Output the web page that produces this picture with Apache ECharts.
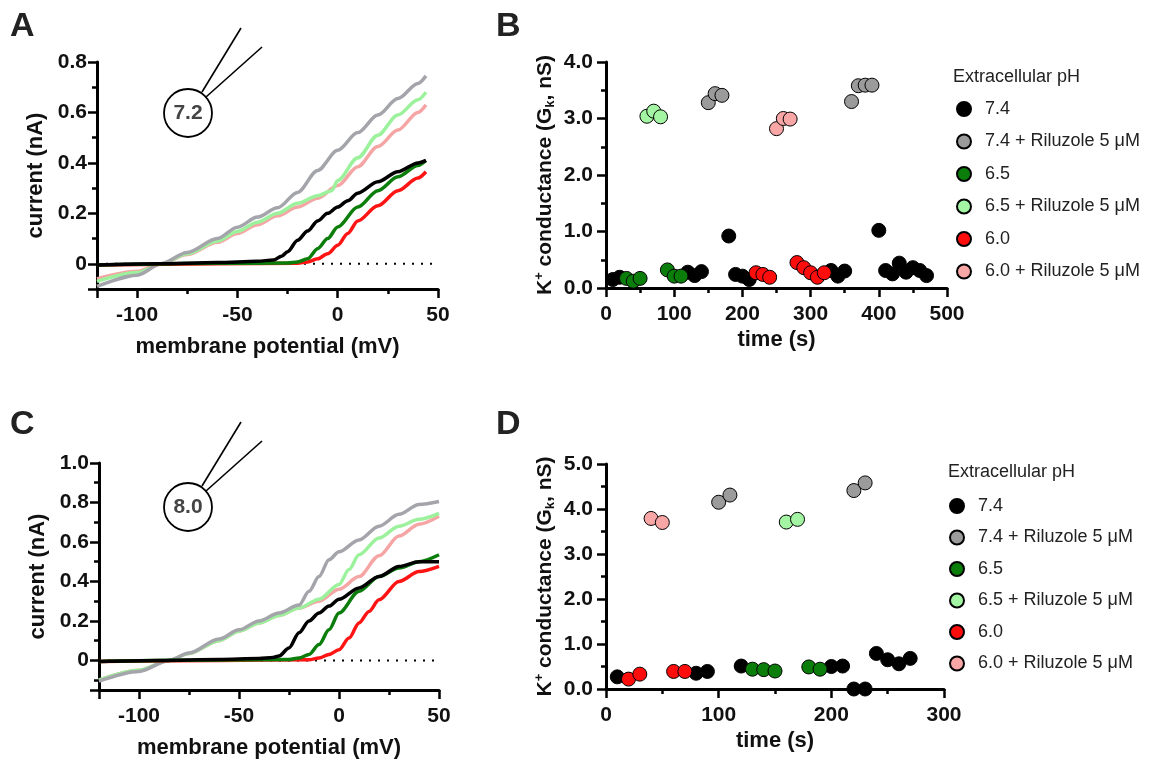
<!DOCTYPE html>
<html>
<head>
<meta charset="utf-8">
<script src="https://cdn.jsdelivr.net/npm/echarts@6/dist/echarts.min.js"></script>
<style>
  html, body { margin: 0; padding: 0; background: #fff; }
  #chart { width: 1157px; height: 761px; }
</style>
</head>
<body>
<div id="chart"></div>
<script>
// ---- I-V curves, panel A (pipette pH 7.2) : [mV, nA]
var ivA_gray   = [[-120,-0.09],[-100,-0.045],[-88,0],[-75,0.045],[-60,0.1],[-50,0.145],[-40,0.185],[-30,0.222],[-20,0.283],[-10,0.37],[0,0.45],[10,0.52],[20,0.59],[30,0.655],[40,0.715],[44,0.745]];
var ivA_lgreen = [[-120,-0.07],[-100,-0.035],[-88,0],[-75,0.04],[-60,0.09],[-50,0.128],[-40,0.165],[-30,0.2],[-20,0.24],[-10,0.27],[-3,0.29],[0,0.33],[10,0.42],[20,0.51],[30,0.59],[40,0.65],[44,0.68]];
var ivA_pink   = [[-120,-0.06],[-100,-0.03],[-88,0],[-75,0.037],[-60,0.085],[-50,0.12],[-40,0.155],[-30,0.19],[-20,0.225],[-10,0.26],[0,0.31],[10,0.385],[20,0.465],[30,0.53],[40,0.6],[44,0.63]];
var ivA_black  = [[-120,-0.005],[-90,0],[-60,0.005],[-40,0.01],[-32,0.015],[-28,0.03],[-25,0.048],[-20,0.093],[-15,0.13],[-10,0.17],[-5,0.2],[0,0.225],[5,0.25],[10,0.28],[20,0.325],[30,0.365],[40,0.4],[44,0.41]];
var ivA_green  = [[-120,-0.005],[-60,0.002],[-25,0.003],[-20,0.007],[-15,0.02],[-10,0.06],[-5,0.1],[0,0.146],[10,0.225],[20,0.29],[30,0.345],[40,0.39],[44,0.41]];
var ivA_red    = [[-120,-0.005],[-60,0],[-20,0.002],[-15,0.007],[-10,0.02],[-5,0.04],[0,0.073],[5,0.12],[10,0.17],[20,0.23],[30,0.29],[40,0.34],[44,0.365]];

// ---- I-V curves, panel C (pipette pH 8.0)
var ivC_gray   = [[-120,-0.105],[-100,-0.056],[-85,0],[-75,0.037],[-60,0.108],[-50,0.155],[-40,0.2],[-30,0.24],[-20,0.28],[-15,0.35],[-10,0.425],[-5,0.51],[0,0.55],[10,0.61],[20,0.68],[30,0.74],[40,0.79],[50,0.805]];
var ivC_lgreen = [[-120,-0.1],[-100,-0.05],[-85,0],[-75,0.035],[-60,0.1],[-50,0.148],[-40,0.19],[-30,0.228],[-20,0.265],[-10,0.31],[0,0.385],[5,0.46],[10,0.535],[20,0.62],[30,0.68],[40,0.715],[50,0.745]];
var ivC_pink   = [[-120,-0.1],[-100,-0.05],[-85,0],[-75,0.035],[-60,0.1],[-50,0.148],[-40,0.19],[-30,0.228],[-20,0.265],[-10,0.3],[0,0.36],[10,0.425],[20,0.53],[30,0.63],[40,0.69],[50,0.73]];
var ivC_black  = [[-120,-0.005],[-90,0],[-60,0.005],[-40,0.01],[-33,0.015],[-30,0.022],[-25,0.063],[-20,0.14],[-15,0.2],[-10,0.24],[-5,0.275],[0,0.31],[10,0.367],[20,0.425],[30,0.476],[40,0.5],[50,0.5]];
var ivC_green  = [[-120,-0.005],[-60,0.002],[-25,0.004],[-20,0.012],[-15,0.03],[-10,0.08],[-5,0.155],[0,0.24],[10,0.35],[20,0.425],[30,0.468],[40,0.5],[50,0.535]];
var ivC_red    = [[-120,-0.005],[-60,0],[-15,0.003],[-10,0.012],[-5,0.03],[0,0.054],[5,0.113],[10,0.19],[15,0.248],[20,0.307],[30,0.4],[40,0.45],[50,0.476]];

// ---- conductance vs time, panel B : [s, nS]
var gB_74   = [[10,0.15],[20,0.19],[120,0.28],[130,0.22],[140,0.29],[180,0.92],[190,0.24],[200,0.21],[210,0.15],[330,0.31],[340,0.21],[350,0.30],[400,1.02],[410,0.31],[420,0.25],[430,0.44],[440,0.28],[450,0.36],[460,0.31],[470,0.22]];
var gB_74R  = [[150,3.28],[160,3.44],[170,3.41],[360,3.30],[370,3.58],[380,3.59],[390,3.59]];
var gB_65   = [[30,0.17],[40,0.12],[50,0.17],[90,0.32],[100,0.21],[110,0.21]];
var gB_65R  = [[60,3.04],[70,3.13],[80,3.03]];
var gB_60   = [[220,0.27],[230,0.24],[240,0.19],[280,0.45],[290,0.36],[300,0.27],[310,0.19],[320,0.27]];
var gB_60R  = [[250,2.82],[260,3.0],[270,2.99]];

// ---- conductance vs time, panel D
var gD_74   = [[10,0.27],[80,0.35],[90,0.39],[120,0.51],[200,0.50],[210,0.51],[220,0],[230,0],[240,0.79],[250,0.65],[260,0.56],[270,0.68]];
var gD_74R  = [[100,4.15],[110,4.31],[220,4.41],[230,4.58]];
var gD_65   = [[130,0.44],[140,0.43],[150,0.40],[180,0.49],[190,0.44]];
var gD_65R  = [[160,3.71],[170,3.77]];
var gD_60   = [[20,0.22],[30,0.33],[60,0.39],[70,0.39]];
var gD_60R  = [[40,3.79],[50,3.70]];

var conditions = ['7.4', '7.4 + Riluzole 5 \u03bcM', '6.5', '6.5 + Riluzole 5 \u03bcM', '6.0', '6.0 + Riluzole 5 \u03bcM'];

var FONT = 'Liberation Sans';
var dotColor = ['#000000', '#9b9b9b', '#0b7d0b', '#a3f5a3', '#ff0d0d', '#f8a6a6'];
var lineCol = { gray: '#a4a4ab', lgreen: '#9cf29c', pink: '#f6a5a5', black: '#000000', green: '#0b7d0b', red: '#ff1414' };

var axLine = { show: true, onZero: false, lineStyle: { color: '#000', width: 3 } };
var majTick = { show: true, length: 9, lineStyle: { color: '#000', width: 2.5 } };
var minTick = { show: true, splitNumber: 2, length: 5, lineStyle: { color: '#000', width: 2.5 } };
var lblStyle = { color: '#111', fontFamily: FONT, fontWeight: 'bold', fontSize: 21 };
var nameStyle = { color: '#111', fontFamily: FONT, fontWeight: 'bold', fontSize: 22 };

function fmtY(v) { return Math.abs(v) < 1e-9 ? '0' : v.toFixed(1); }
function fmtX(v) { return String(v); }

// I-V axis: the step is pinned through min/maxInterval so ticks sit on round values
// (an explicit interval would count from the off-grid min); the min edge label is hidden
function ivAxis(grid, pos, min, max, step, margin, fmt, name, gap) {
    return {
        type: 'value', gridIndex: grid, position: pos, min: min, max: max,
        minInterval: step, maxInterval: step,
        axisLine: axLine, axisTick: majTick, minorTick: minTick,
        axisLabel: Object.assign({ margin: margin, formatter: fmt, showMinLabel: false }, lblStyle),
        splitLine: { show: false }, minorSplitLine: { show: false },
        name: name, nameLocation: 'middle', nameGap: gap, nameTextStyle: nameStyle
    };
}
function timeAxis(grid, max) {
    return {
        type: 'value', gridIndex: grid, min: 0, max: max, interval: 100,
        axisLine: axLine, axisTick: majTick, minorTick: minTick,
        axisLabel: Object.assign({ margin: 16 }, lblStyle),
        splitLine: { show: false },
        name: 'time (s)', nameLocation: 'middle', nameGap: 41, nameTextStyle: nameStyle
    };
}
function gAxis(grid, max) {
    return {
        type: 'value', gridIndex: grid, min: 0, max: max, interval: 1,
        axisLine: axLine, axisTick: majTick, minorTick: minTick,
        axisLabel: Object.assign({ margin: 13, formatter: function (v) { return v.toFixed(1); } }, lblStyle),
        splitLine: { show: false },
        name: '{n|K}{sup|+}{n| conductance (G}{sub|k}{n|, nS)}',
        nameLocation: 'middle', nameGap: 49,
        nameTextStyle: {
            rich: {
                n: { fontFamily: FONT, fontWeight: 'bold', fontSize: 21, color: '#111', lineHeight: 24 },
                sup: { fontFamily: FONT, fontWeight: 'bold', fontSize: 13, color: '#111', verticalAlign: 'top', lineHeight: 24 },
                sub: { fontFamily: FONT, fontWeight: 'bold', fontSize: 13, color: '#111', verticalAlign: 'bottom', lineHeight: 24 }
            }
        }
    };
}

function ivLine(data, color, ai) {
    return {
        type: 'line', xAxisIndex: ai, yAxisIndex: ai, data: data,
        showSymbol: false, smooth: 0.3, smoothMonotone: 'x',
        lineStyle: { color: color, width: 3.5 }, silent: true
    };
}
function zeroLine(ai) {
    return {
        type: 'line', xAxisIndex: ai, yAxisIndex: ai, data: [[-120, 0], [50, 0]],
        showSymbol: false, z: 1,
        lineStyle: { color: '#000', width: 2, type: [2, 7] }, silent: true
    };
}
function dots(name, data, idx, ai) {
    return {
        type: 'scatter', name: name, xAxisIndex: ai, yAxisIndex: ai, data: data,
        symbol: 'circle', symbolSize: 14, z: 5,
        itemStyle: { color: dotColor[idx], borderColor: '#000', borderWidth: 1, opacity: 1 }
    };
}

function pipette(cx, cy, label) {
    return [
        { type: 'line', shape: { x1: cx + 14, y1: cy - 21, x2: cx + 53, y2: cy - 85 }, style: { stroke: '#000', lineWidth: 1.6 } },
        { type: 'line', shape: { x1: cx + 18, y1: cy - 16, x2: cx + 74, y2: cy - 66 }, style: { stroke: '#000', lineWidth: 1.6 } },
        { type: 'circle', shape: { cx: cx, cy: cy, r: 24 }, style: { fill: '#fff', stroke: '#000', lineWidth: 1.8 } },
        { type: 'text', x: cx, y: cy, style: { text: label, fill: '#444', font: 'bold 21px "Liberation Sans"', align: 'center', verticalAlign: 'middle' } }
    ];
}
function letter(x, y, t) {
    return { type: 'text', x: x, y: y, style: { text: t, fill: '#222', font: 'bold 34px "Liberation Sans"' } };
}
function legendTitle(x, y) {
    return { type: 'text', x: x, y: y, style: { text: 'Extracellular pH', fill: '#222', font: '18px "Liberation Sans"', verticalAlign: 'middle' } };
}

var legendCommon = {
    orient: 'vertical', icon: 'circle', itemWidth: 14, itemHeight: 14,
    selectedMode: false, data: conditions,
    textStyle: { fontFamily: FONT, fontSize: 18, color: '#222', lineHeight: 18, padding: [0, 0, 0, 9] }
};

var chart = echarts.init(document.getElementById('chart'));
chart.setOption({
    animation: false,
    backgroundColor: '#fff',
    grid: [
        { left: 97, top: 62, width: 341, height: 227 },
        { left: 606, top: 62, width: 341, height: 226 },
        { left: 99, top: 463, width: 340, height: 227 },
        { left: 606, top: 464, width: 338, height: 225 }
    ],
    // axis index 0 = A, 1 = B, 2 = C, 3 = D
    xAxis: [
        ivAxis(0, 'bottom', -120, 50, 50, 16, fmtX, 'membrane potential (mV)', 47),
        timeAxis(1, 500),
        ivAxis(2, 'bottom', -120, 50, 50, 16, fmtX, 'membrane potential (mV)', 47),
        timeAxis(3, 300)
    ],
    yAxis: [
        ivAxis(0, 'left', -0.1, 0.8, 0.2, 10, fmtY, 'current (nA)', 50),
        gAxis(1, 4),
        ivAxis(2, 'left', -0.15, 1.0, 0.2, 10, fmtY, 'current (nA)', 50),
        gAxis(3, 5)
    ],
    legend: [
        Object.assign({ left: 951, top: 95, itemGap: 14.5 }, legendCommon),
        Object.assign({ left: 944, top: 492, itemGap: 13.5 }, legendCommon)
    ],
    graphic: [].concat(
        pipette(188, 113, '7.2'),
        pipette(188, 507, '8.0'),
        [letter(10, 10, 'A'), letter(496, 10, 'B'), letter(10, 408, 'C'), letter(496, 408, 'D'),
         legendTitle(953, 77), legendTitle(948, 472)]
    ),
    series: [
        zeroLine(0),
        ivLine(ivA_pink, lineCol.pink, 0),
        ivLine(ivA_lgreen, lineCol.lgreen, 0),
        ivLine(ivA_gray, lineCol.gray, 0),
        ivLine(ivA_red, lineCol.red, 0),
        ivLine(ivA_green, lineCol.green, 0),
        ivLine(ivA_black, lineCol.black, 0),

        dots(conditions[0], gB_74, 0, 1),
        dots(conditions[1], gB_74R, 1, 1),
        dots(conditions[2], gB_65, 2, 1),
        dots(conditions[3], gB_65R, 3, 1),
        dots(conditions[4], gB_60, 4, 1),
        dots(conditions[5], gB_60R, 5, 1),

        zeroLine(2),
        ivLine(ivC_pink, lineCol.pink, 2),
        ivLine(ivC_lgreen, lineCol.lgreen, 2),
        ivLine(ivC_gray, lineCol.gray, 2),
        ivLine(ivC_red, lineCol.red, 2),
        ivLine(ivC_green, lineCol.green, 2),
        ivLine(ivC_black, lineCol.black, 2),

        dots(conditions[0], gD_74, 0, 3),
        dots(conditions[1], gD_74R, 1, 3),
        dots(conditions[2], gD_65, 2, 3),
        dots(conditions[3], gD_65R, 3, 3),
        dots(conditions[4], gD_60, 4, 3),
        dots(conditions[5], gD_60R, 5, 3)
    ]
});
</script>
</body>
</html>
